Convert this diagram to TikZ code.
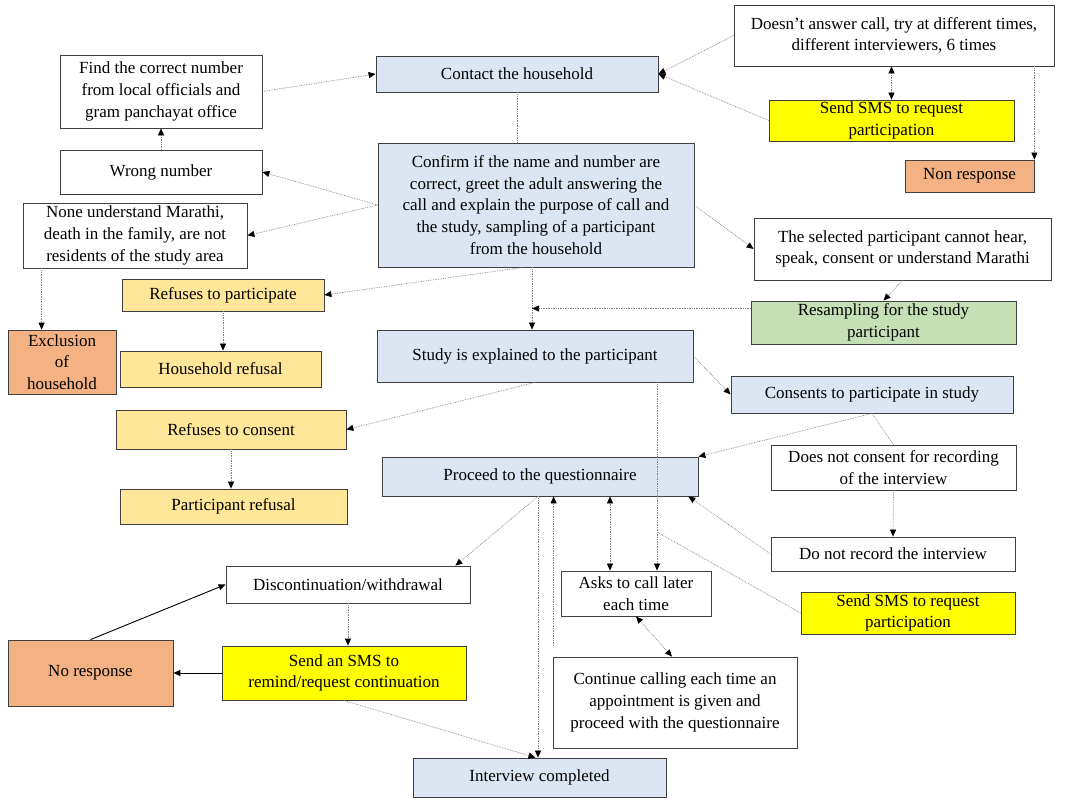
\documentclass[tikz,border=0pt]{standalone}
\usepackage{fontspec}
\setmainfont{Liberation Serif}
\usetikzlibrary{arrows.meta}
\definecolor{PaleBlue}{HTML}{DCE6F2}
\definecolor{Peach}{HTML}{FFE699}
\definecolor{Salmon}{HTML}{F4B183}
\definecolor{Sage}{HTML}{C5E0B4}
\definecolor{Lemon}{HTML}{FFFF00}

\begin{document}
\begin{tikzpicture}[x=1pt,y=-1pt,
  box/.style={draw=black!75,line width=.8pt,align=center,inner sep=1pt,
    font=\fontsize{17}{21.6}\selectfont},
  bluebox/.style={box,fill=PaleBlue},
  peachbox/.style={box,fill=Peach},
  salmonbox/.style={box,fill=Salmon},
  sagebox/.style={box,fill=Sage},
  lemonbox/.style={box,fill=Lemon},
  link/.style={gray,densely dotted,line width=.7pt,-{Triangle[length=7pt,width=6pt,color=black]}},
  both/.style={link,{Triangle[length=7pt,width=6pt,color=black]}-{Triangle[length=7pt,width=6pt,color=black]}},
  plain/.style={gray,densely dotted,line width=.7pt},
  solid link/.style={black,line width=.9pt,-{Triangle[length=7pt,width=6pt]}}]
  \useasboundingbox (0,0) rectangle (1084,803);
  \fill[white] (0,0) rectangle (1084,803);
  \coordinate (MidA) at (532,0);
  \coordinate (MidB) at (657,0);
  \coordinate (Tap) at (657,532);
  % top row
  \node[bluebox,minimum width=282pt,minimum height=36pt] (Contact) at (517,74) {Contact the household};
  \node[box,minimum width=202pt,minimum height=73pt] (FindNumber) at (161,91.5) {Find the correct number\\from local officials and\\gram panchayat office};
  \node[box,minimum width=202pt,minimum height=44pt] (Wrong) at (161,172) {Wrong number};
  \node[box,minimum width=224pt,minimum height=65pt] (NoneUnderstand) at (135,235.5) {None understand Marathi,\\death in the family, are not\\residents of the study area};
  \node[bluebox,minimum width=316pt,minimum height=124pt] (Confirm) at (536,205) {Confirm if the name and number are\\correct, greet the adult answering the\\call and explain the purpose of call and\\the study, sampling of a participant\\from the household};
  \node[box,minimum width=320pt,minimum height=61pt] (NoAnswer) at (894,35.5) {Doesn't answer call, try at different times,\\different interviewers, 6 times};
  \node[lemonbox,minimum width=245pt,minimum height=41pt] (SmsOne) at (891.5,120.5) {Send SMS to request\\participation};
  \node[salmonbox,minimum width=129pt,minimum height=32pt] (NonResp) at (969.5,176) {Non response};
  \node[box,minimum width=297pt,minimum height=62pt] (Selected) at (902.5,249) {The selected participant cannot hear,\\speak, consent or understand Marathi};
  % middle
  \node[sagebox,minimum width=265pt,minimum height=43pt] (Resample) at (883.5,322.5) {Resampling for the study\\participant};
  \node[peachbox,minimum width=202pt,minimum height=32pt] (RefPart) at (223,295) {Refuses to participate};
  \node[salmonbox,minimum width=108pt,minimum height=64pt] (Exclusion) at (62,362) {Exclusion\\of\\household};
  \node[peachbox,minimum width=201pt,minimum height=36pt] (HhRefusal) at (220.5,369) {Household refusal};
  \node[bluebox,minimum width=316pt,minimum height=52pt] (Explained) at (535,356) {Study is explained to the participant};
  \node[bluebox,minimum width=282pt,minimum height=37pt] (Consents) at (872,394.5) {Consents to participate in study};
  \node[peachbox,minimum width=230pt,minimum height=39pt] (RefCons) at (231,429.5) {Refuses to consent};
  \node[bluebox,minimum width=316pt,minimum height=39pt] (Proceed) at (540,476.5) {Proceed to the questionnaire};
  \node[box,minimum width=245pt,minimum height=45pt] (NoRecConsent) at (893.5,467.5) {Does not consent for recording\\of the interview};
  \node[peachbox,minimum width=227pt,minimum height=35pt] (PartRefusal) at (233.5,506.5) {Participant refusal};
  \node[box,minimum width=244pt,minimum height=34pt] (NoRecord) at (893,554) {Do not record the interview};
  % bottom
  \node[box,minimum width=244pt,minimum height=37pt] (Discont) at (348,584.5) {Discontinuation/withdrawal};
  \node[box,minimum width=150pt,minimum height=45pt] (CallLater) at (636,593.5) {Asks to call later\\each time};
  \node[lemonbox,minimum width=214pt,minimum height=42pt] (SmsTwo) at (908,613) {Send SMS to request\\participation};
  \node[salmonbox,minimum width=165pt,minimum height=66pt] (NoResponse) at (90.5,673) {No response};
  \node[lemonbox,minimum width=244pt,minimum height=54pt] (SmsRemind) at (344,673) {Send an SMS to\\remind/request continuation};
  \node[box,minimum width=244pt,minimum height=91pt] (KeepCalling) at (675,702.5) {Continue calling each time an\\appointment is given and\\proceed with the questionnaire};
  \node[bluebox,minimum width=253pt,minimum height=39pt] (Completed) at (539.5,777.5) {Interview completed};
  % connectors, top part
  \draw[link] (FindNumber.east) -- (Contact.west);
  \draw[link] (NoAnswer.west) -- (Contact.east);
  \draw[link] (SmsOne.west) -- (Contact.east);
  \draw[both] (SmsOne.north |- NoAnswer.south) -- (SmsOne.north);
  \draw[link] (NonResp.north east |- NoAnswer.south) -- (NonResp.north east);
  \draw[plain] (Contact.south) -- (Contact.south |- Confirm.north);
  \draw[link] (Wrong.north) -- (FindNumber.south);
  \draw[link] (Confirm.west) -- (Wrong.east);
  \draw[link] (Confirm.west) -- (NoneUnderstand.east);
  \draw[link] (Confirm.east) -- (Selected.west);
  \draw[link] ([xshift=19pt]NoneUnderstand.south west) -- ([xshift=19pt]NoneUnderstand.south west |- Exclusion.north);
  \draw[link] ([xshift=-13pt]Confirm.south) -- (RefPart.east);
  \draw[link] (Confirm.south -| MidA) -- (Explained.north -| MidA);
  \draw[link] ([yshift=14pt]Resample.west) -- ([yshift=14pt]Resample.west -| MidA);
  \draw[link] (Selected.south) -- (Resample.north);
  \draw[link] (RefPart.south) -- (RefPart.south |- HhRefusal.north);
  % connectors, middle part
  \draw[link] (Explained.east) -- (Consents.west);
  \draw[link] (Explained.south) -- (RefCons.east);
  \draw[link] (Explained.south -| MidB) -- (CallLater.north -| MidB);
  \draw[link] (RefCons.south) -- (RefCons.south |- PartRefusal.north);
  \draw[link] (Consents.south) -- (Proceed.north east);
  \draw[plain] (Consents.south) -- (NoRecConsent.north);
  \draw[link] (NoRecConsent.south) -- (NoRecord.north);
  \draw[link] (NoRecord.west) -- ([xshift=-10pt]Proceed.south east);
  \draw[plain] (SmsTwo.west) -- (Tap);
  % connectors, bottom part
  \draw[link] ([xshift=-2pt]Proceed.south) -- ([xshift=-15pt]Discont.north east);
  \draw[link] ([xshift=-2pt]Proceed.south) -- ([xshift=-2pt]Proceed.south |- Completed.north);
  \draw[link] ([xshift=1pt,yshift=11pt]KeepCalling.north west) -- ([xshift=1pt]KeepCalling.north west |- Proceed.south);
  \draw[both] ([xshift=-26pt]CallLater.north) -- ([xshift=-26pt]CallLater.north |- Proceed.south);
  \draw[both] (CallLater.south) -- ([xshift=-3pt]KeepCalling.north);
  \draw[link] (Discont.south) -- (Discont.south |- SmsRemind.north);
  \draw[solid link] (SmsRemind.west) -- (NoResponse.east);
  \draw[solid link] (NoResponse.north) -- (Discont.west);
  \draw[link] (SmsRemind.south) -- ([xshift=-4pt]Completed.north);
\end{tikzpicture}
\end{document}
